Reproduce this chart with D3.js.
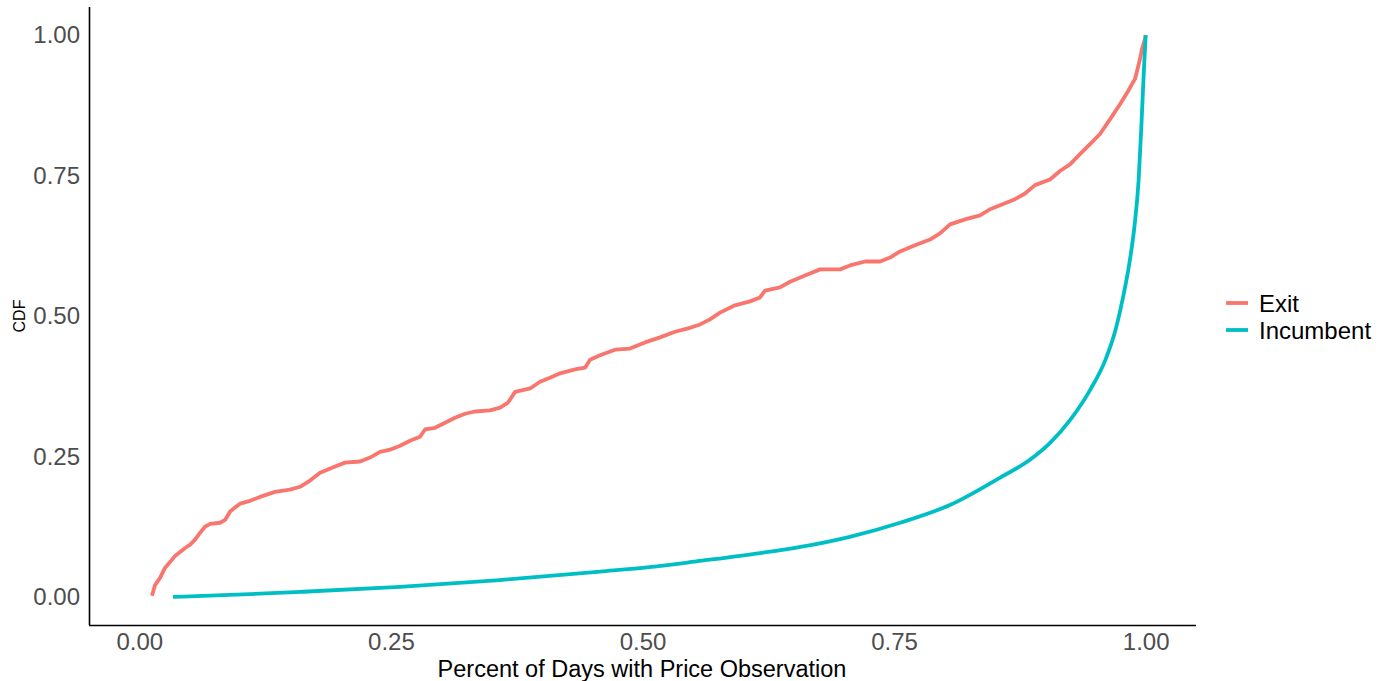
<!DOCTYPE html>
<html>
<head>
<meta charset="utf-8">
<script src="https://cdn.jsdelivr.net/npm/d3@7"></script>
<style>
  html, body { margin: 0; padding: 0; background: #ffffff; }
  svg { display: block; font-family: "Liberation Sans", Arial, sans-serif; }
</style>
</head>
<body>
<svg id="chart" width="1390" height="681"></svg>
<script>
// Empirical CDF of the share of days with a price observation, by firm group
const seriesNames = ["Exit", "Incumbent"];
const seriesColors = ["#F8766D", "#00BFC4"];

const exitShare = [0.0126, 0.0156, 0.0206, 0.0256, 0.0305, 0.0355, 0.0405, 0.0455, 0.0505, 0.0554,
  0.0603, 0.0653, 0.0703, 0.0802, 0.0852, 0.0902, 0.0951, 0.1001, 0.1100, 0.1199,
  0.1348, 0.1497, 0.1597, 0.1696, 0.1796, 0.1945, 0.2044, 0.2193, 0.2293, 0.2392,
  0.2491, 0.2591, 0.2690, 0.2789, 0.2839, 0.2939, 0.3038, 0.3137, 0.3237, 0.3336,
  0.3485, 0.3584, 0.3664, 0.3734, 0.3883, 0.3982, 0.4081, 0.4181, 0.4330, 0.4429,
  0.4479, 0.4578, 0.4727, 0.4876, 0.5025, 0.5174, 0.5323, 0.5472, 0.5572, 0.5671,
  0.5770, 0.5919, 0.6068, 0.6168, 0.6217, 0.6366, 0.6466, 0.6615, 0.6764, 0.6963,
  0.7062, 0.7211, 0.7360, 0.7460, 0.7559, 0.7708, 0.7857, 0.7956, 0.8056, 0.8205,
  0.8354, 0.8453, 0.8553, 0.8702, 0.8801, 0.8900, 0.9049, 0.9149, 0.9248, 0.9347,
  0.9447, 0.9546, 0.9645, 0.9745, 0.9824, 0.9894, 0.9943, 0.9963, 0.9993, 1.0000];
const exitCdf = [0.002, 0.021, 0.034, 0.052, 0.062, 0.073, 0.080, 0.087, 0.093, 0.102,
  0.114, 0.125, 0.130, 0.132, 0.137, 0.152, 0.159, 0.166, 0.171, 0.178,
  0.187, 0.191, 0.196, 0.207, 0.221, 0.232, 0.239, 0.241, 0.248, 0.258,
  0.262, 0.269, 0.278, 0.285, 0.298, 0.301, 0.310, 0.319, 0.326, 0.330,
  0.332, 0.337, 0.346, 0.365, 0.371, 0.383, 0.390, 0.398, 0.405, 0.408,
  0.422, 0.430, 0.440, 0.442, 0.453, 0.462, 0.472, 0.479, 0.485, 0.494,
  0.506, 0.519, 0.526, 0.533, 0.545, 0.551, 0.561, 0.572, 0.583, 0.583,
  0.590, 0.597, 0.597, 0.604, 0.615, 0.626, 0.636, 0.647, 0.663, 0.672,
  0.679, 0.690, 0.697, 0.708, 0.718, 0.733, 0.743, 0.758, 0.770, 0.788,
  0.806, 0.824, 0.850, 0.877, 0.900, 0.922, 0.957, 0.975, 0.993, 1.000];

const incumbentShare = [0.0335, 0.110, 0.160, 0.259, 0.358, 0.458, 0.507, 0.557, 0.617, 0.657,
  0.706, 0.756, 0.806, 0.855, 0.885, 0.905, 0.925, 0.945, 0.960, 0.970,
  0.977, 0.984, 0.989, 0.993, 0.996, 0.998, 1.000];
const incumbentCdf = [0.000, 0.005, 0.009, 0.018, 0.030, 0.045, 0.053, 0.064, 0.078, 0.089,
  0.107, 0.132, 0.164, 0.212, 0.244, 0.274, 0.315, 0.369, 0.422, 0.475,
  0.529, 0.596, 0.662, 0.742, 0.849, 0.929, 1.000];

const xTicks = [0, 0.25, 0.5, 0.75, 1];
const yTicks = [0, 0.25, 0.5, 0.75, 1];

const svg = d3.select("#chart");
const panel = { left: 89, right: 1196, top: 7, bottom: 625 };

const x = d3.scaleLinear().domain([-0.05, 1.05]).range([panel.left, panel.right]);
const y = d3.scaleLinear().domain([-0.05, 1.05]).range([panel.bottom, panel.top]);

const series = [
  { name: seriesNames[0], color: seriesColors[0], curve: d3.curveLinear,
    points: exitShare.map((v, i) => [v, exitCdf[i]]) },
  { name: seriesNames[1], color: seriesColors[1], curve: d3.curveMonotoneX,
    points: incumbentShare.map((v, i) => [v, incumbentCdf[i]]) }
];

// lines
series.forEach(s => {
  const line = d3.line().x(d => x(d[0])).y(d => y(d[1])).curve(s.curve);
  svg.append("path")
    .datum(s.points)
    .attr("d", line)
    .attr("fill", "none")
    .attr("stroke", s.color)
    .attr("stroke-width", 3.8)
    .attr("stroke-linejoin", "round")
    .attr("stroke-linecap", "butt");
});

// axes
const xAxis = d3.axisBottom(x).tickValues(xTicks).tickFormat(d3.format(".2f")).tickSize(0).tickPadding(8);
const yAxis = d3.axisLeft(y).tickValues(yTicks).tickFormat(d3.format(".2f")).tickSize(0).tickPadding(9);

const gx = svg.append("g").attr("transform", `translate(0,${panel.bottom})`).call(xAxis);
const gy = svg.append("g").attr("transform", `translate(${panel.left},0)`).call(yAxis);

[gx, gy].forEach(g => {
  g.select(".domain").attr("stroke", "#000").attr("stroke-width", 1.6);
  g.selectAll("text")
    .attr("fill", "#4D4D4D")
    .style("font-size", "24px")
    .style("font-family", "'Liberation Sans', Arial, sans-serif");
});
gx.select(".domain").attr("d", `M${panel.left},0.5H${panel.right}`);
gy.select(".domain").attr("d", `M0.5,${panel.top}V${panel.bottom}`);

// axis titles
svg.append("text")
  .attr("x", 642)
  .attr("y", 677)
  .attr("text-anchor", "middle")
  .attr("fill", "#000")
  .style("font-size", "23.5px")
  .text("Percent of Days with Price Observation");

svg.append("text")
  .attr("transform", `translate(25,${(panel.top + panel.bottom) / 2}) rotate(-90)`)
  .attr("text-anchor", "middle")
  .attr("fill", "#000")
  .style("font-size", "16px")
  .text("CDF");

// legend
const legend = svg.append("g").attr("transform", "translate(1226,303)");
series.forEach((s, i) => {
  const row = legend.append("g").attr("transform", `translate(0,${i * 27})`);
  row.append("line")
    .attr("x1", 0).attr("x2", 22)
    .attr("y1", 0).attr("y2", 0)
    .attr("stroke", s.color)
    .attr("stroke-width", 3.8);
  row.append("text")
    .attr("x", 33)
    .attr("y", 8.5)
    .attr("fill", "#000")
    .style("font-size", "24px")
    .text(s.name);
});
</script>
</body>
</html>
